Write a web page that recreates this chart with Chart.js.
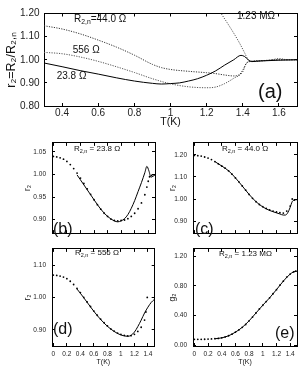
<!DOCTYPE html>
<html>
<head>
<meta charset="utf-8">
<script src="https://cdn.jsdelivr.net/npm/chart.js@4.4.0/dist/chart.umd.min.js"></script>
<style>
  body { margin: 0; background: #fff; }
  #wrap { position: relative; width: 306px; height: 366px; overflow: hidden; }
  canvas { position: absolute; }
</style>
</head>
<body>
<div id="wrap">
  <canvas id="pa"></canvas>
  <canvas id="pb"></canvas>
  <canvas id="pc"></canvas>
  <canvas id="pd"></canvas>
  <canvas id="pe"></canvas>
</div>
<script>
// ---- panel (a): r2 = R2/R2,n vs T for four films ----
const aT238 = [0.3,0.4,0.5,0.6,0.7,0.8,0.9,0.95,1.0,1.05,1.1,1.15,1.2,1.25,1.3,1.35,1.39,1.41,1.43,1.45,1.5,1.6,1.7];
const aR238 = [0.986,0.970,0.953,0.938,0.922,0.908,0.898,0.895,0.897,0.900,0.908,0.918,0.933,0.952,0.977,1.000,1.019,1.014,1.000,0.992,0.995,0.998,1.000];
const aT440 = [0.3,0.4,0.5,0.6,0.7,0.8,0.9,0.95,1.0,1.1,1.2,1.25,1.3,1.35,1.38,1.4,1.42,1.45,1.5,1.6,1.7];
const aR440 = [1.147,1.133,1.112,1.085,1.055,1.020,0.980,0.966,0.958,0.950,0.944,0.940,0.934,0.930,0.935,0.955,0.985,0.994,0.996,1.000,1.000];
const aT556 = [0.3,0.4,0.5,0.6,0.7,0.8,0.9,1.0,1.1,1.2,1.25,1.3,1.35,1.4,1.42,1.45,1.5,1.6,1.7];
const aR556 = [1.032,1.026,1.012,0.993,0.970,0.945,0.918,0.896,0.883,0.879,0.882,0.897,0.920,0.948,0.985,0.993,0.995,1.000,1.000];
const aT123 = [1.22,1.28,1.33,1.38,1.41,1.43,1.45,1.5,1.55,1.6,1.65,1.7];
const aR123 = [1.27,1.20,1.14,1.075,1.03,1.00,0.993,0.995,0.998,1.005,1.000,1.000];
const aXTicks = [0.4,0.6,0.8,1.0,1.2,1.4,1.6];
const aYTicks = [0.8,0.9,1.0,1.1,1.2];

// ---- panels (b)-(e): measured (dots) and calculated (line) ----
const bT    = [0,0.05,0.1,0.15,0.2,0.25,0.3,0.35,0.4,0.45,0.5,0.55,0.6,0.65,0.7,0.75,0.8,0.85,0.9,0.95,1.0,1.05,1.1,1.15,1.2,1.25,1.3,1.35,1.38,1.4,1.42,1.45];
const bDots = [1.040,1.039,1.037,1.034,1.029,1.022,1.013,1.003,0.992,0.980,0.968,0.956,0.944,0.933,0.923,0.914,0.907,0.901,0.898,0.897,0.898,0.899,0.902,0.907,0.914,0.924,0.937,0.955,0.972,0.985,0.995,0.998];
const bLT   = [0.35,0.4,0.5,0.6,0.7,0.8,0.9,0.95,1.0,1.05,1.1,1.15,1.2,1.25,1.3,1.35,1.38,1.41,1.44,1.47,1.5];
const bLine = [0.999,0.988,0.966,0.944,0.923,0.907,0.897,0.895,0.897,0.902,0.911,0.925,0.942,0.962,0.982,1.004,1.018,1.008,0.994,0.996,0.999];

const cT    = [0,0.05,0.1,0.15,0.2,0.25,0.3,0.35,0.4,0.45,0.5,0.55,0.6,0.65,0.7,0.75,0.8,0.85,0.9,0.95,1.0,1.05,1.1,1.15,1.2,1.25,1.3,1.35,1.4,1.43,1.46];
const cDots = [1.198,1.197,1.195,1.191,1.186,1.179,1.170,1.160,1.150,1.140,1.128,1.113,1.096,1.078,1.059,1.040,1.021,1.003,0.988,0.975,0.965,0.957,0.950,0.945,0.941,0.938,0.936,0.945,0.968,1.000,0.995];
const cLT   = [0.3,0.4,0.5,0.6,0.7,0.8,0.9,1.0,1.1,1.2,1.25,1.3,1.33,1.36,1.4,1.43,1.46,1.5];
const cLine = [1.170,1.150,1.128,1.096,1.059,1.021,0.988,0.964,0.948,0.937,0.932,0.927,0.927,0.935,0.962,0.988,0.995,0.997];

const dT    = [0,0.05,0.1,0.15,0.2,0.25,0.3,0.35,0.4,0.45,0.5,0.55,0.6,0.65,0.7,0.75,0.8,0.85,0.9,0.95,1.0,1.05,1.1,1.15,1.2,1.25,1.3,1.35,1.37,1.39];
const dDots = [1.069,1.068,1.066,1.063,1.058,1.050,1.040,1.028,1.015,1.000,0.986,0.972,0.958,0.945,0.933,0.922,0.912,0.903,0.896,0.890,0.886,0.883,0.881,0.882,0.886,0.895,0.908,0.930,0.955,1.000];
const dLT   = [0.35,0.4,0.5,0.6,0.7,0.8,0.9,1.0,1.1,1.15,1.2,1.25,1.3,1.35,1.4,1.45,1.49];
const dLine = [1.026,1.013,0.985,0.957,0.932,0.911,0.895,0.884,0.880,0.883,0.893,0.910,0.930,0.952,0.970,0.985,0.993];

const eT    = [0,0.05,0.1,0.15,0.2,0.25,0.3,0.35,0.4,0.45,0.5,0.55,0.6,0.65,0.7,0.75,0.8,0.85,0.9,0.95,1.0,1.05,1.1,1.15,1.2,1.25,1.3,1.35,1.4,1.45,1.48];
const eDots = [0.080,0.080,0.080,0.081,0.083,0.086,0.089,0.092,0.100,0.112,0.128,0.150,0.177,0.207,0.242,0.280,0.330,0.380,0.435,0.490,0.540,0.590,0.640,0.695,0.750,0.810,0.865,0.920,0.960,0.990,1.000];
const eLT   = [0.3,0.4,0.5,0.6,0.7,0.8,0.9,1.0,1.1,1.2,1.3,1.4,1.45,1.5];
const eLine = [0.088,0.100,0.128,0.177,0.242,0.330,0.435,0.540,0.640,0.750,0.865,0.960,0.990,1.000];

const lowXTicks = [0,0.2,0.4,0.6,0.8,1.0,1.2,1.4];
const bYTicks = [0.90,0.95,1.00,1.05];
const cYTicks = [0.90,1.00,1.10,1.20];
const dYTicks = [0.90,1.00,1.10];
const eYTicks = [0.00,0.40,0.80,1.20];

const FONT = '"Liberation Sans", Arial, Helvetica, sans-serif';
const pts = (xs, ys) => xs.map((x, i) => ({x: x, y: ys[i]}));

function dotted(xs, ys, color) {
  return {data: pts(xs, ys), borderColor: color, borderWidth: 1, borderDash: [1.2, 1.3],
          pointRadius: 0, fill: false, cubicInterpolationMode: 'monotone'};
}
function solid(xs, ys) {
  return {data: pts(xs, ys), borderColor: '#000', borderWidth: 1, pointRadius: 0,
          fill: false, cubicInterpolationMode: 'monotone'};
}
function dots(xs, ys) {
  return {data: pts(xs, ys), showLine: false, pointRadius: 0.9, pointBorderWidth: 0,
          pointBackgroundColor: '#000'};
}

// text with subscripts: parts = [[text, isSub], ...]
function richText(ctx, parts, x, y, size) {
  let cx = x;
  parts.forEach(([txt, sub]) => {
    const fs = sub ? size * 0.68 : size;
    ctx.font = fs + 'px ' + FONT;
    ctx.fillText(txt, cx, sub ? y + size * 0.3 : y);
    cx += ctx.measureText(txt).width;
  });
}

function axis(pos, min, max, ticks, fit, o) {
  o = o || {};
  const horiz = pos === 'top' || pos === 'bottom';
  return {
    type: 'linear', position: pos, min: min, max: max,
    afterBuildTicks: s => { s.ticks = ticks.map(v => ({value: v})); },
    afterFit: s => { if (horiz) s.height = fit; else s.width = fit; },
    grid: {drawOnChartArea: false, drawTicks: true, tickLength: -3, color: '#000', tickColor: '#000'},
    border: {display: true, color: '#000', width: 1},
    ticks: {display: !!o.labels, color: '#222', padding: o.pad || 0, autoSkip: false,
            maxRotation: 0, minRotation: 0,
            font: {family: FONT, size: o.size || 6}, callback: o.fmt},
    title: o.title ? {display: true, text: o.title, color: '#111', padding: o.titlePad,
                      font: {family: FONT, size: o.titleSize}} : {display: false}
  };
}

const fmtX = v => String(Math.round(v * 10) / 10);
const fmtY = v => v.toFixed(2);

function panel(id, box, plot, o) {
  const cv = document.getElementById(id);
  cv.style.left = box.x + 'px'; cv.style.top = box.y + 'px';
  cv.style.width = box.w + 'px'; cv.style.height = box.h + 'px';
  cv.width = box.w; cv.height = box.h;
  new Chart(cv, {
    type: 'line',
    data: {datasets: o.datasets},
    options: {
      responsive: false, animation: false, devicePixelRatio: 1,
      layout: {padding: {left: 0, bottom: 0, top: plot.t - box.y, right: box.x + box.w - plot.r}},
      plugins: {legend: {display: false}, tooltip: {enabled: false}},
      scales: {
        x: axis('bottom', o.xmin, o.xmax, o.xt, box.y + box.h - plot.b, o.xo),
        x2: axis('top', o.xmin, o.xmax, o.xt, 0),
        y: axis('left', o.ymin, o.ymax, o.yt, plot.l - box.x, o.yo),
        y2: axis('right', o.ymin, o.ymax, o.yt, 0)
      }
    },
    plugins: [{
      id: 'notes',
      afterDraw(chart) {
        const ctx = chart.ctx;
        ctx.save();
        ctx.fillStyle = '#111';
        ctx.textBaseline = 'middle';
        ctx.textAlign = 'left';
        o.notes.forEach(n => richText(ctx, n.parts, n.x - box.x, n.y - box.y, n.size));
        ctx.restore();
      }
    }]
  });
}

// (a)
panel('pa', {x: 0, y: 0, w: 306, h: 130}, {l: 44, t: 6, r: 297, b: 106}, {
  xmin: 0.3, xmax: 1.7, ymin: 0.8, ymax: 1.2, xt: aXTicks, yt: aYTicks,
  xo: {labels: true, pad: 4, size: 10, fmt: fmtX, title: 'T(K)', titleSize: 10.5, titlePad: 1.5},
  yo: {labels: true, pad: 7.5, size: 10, fmt: fmtY, title: 'r\u2082=R\u2082/R\u2082,\u2099', titleSize: 12.5, titlePad: 4},
  datasets: [
    solid(aT238, aR238),
    dotted(aT440, aR440, '#333'),
    dotted(aT556, aR556, '#555'),
    dotted(aT123, aR123, '#555')
  ],
  notes: [
    {parts: [['R', 0], ['2,n', 1], ['=44.0 \u03A9', 0]], x: 74, y: 19.5, size: 10},
    {parts: [['556 \u03A9', 0]], x: 72.7, y: 50, size: 10},
    {parts: [['23.8 \u03A9', 0]], x: 56.7, y: 76.7, size: 10},
    {parts: [['1.23 M\u03A9', 0]], x: 237, y: 16, size: 10},
    {parts: [['(a)', 0]], x: 258, y: 92, size: 20}
  ]
});

const lowX = {xmin: -0.02, xmax: 1.5, xt: lowXTicks};
const yTitle = (t, pad) => ({labels: true, pad: 9, size: 6.5, fmt: fmtY, title: t, titleSize: 8.5, titlePad: pad});

// (b)
panel('pb', {x: 0, y: 130, w: 160, h: 116}, {l: 52, t: 140, r: 155, b: 243}, Object.assign({
  ymin: 0.87, ymax: 1.07, yt: bYTicks, xo: {}, yo: yTitle('r\u2082', 22.5),
  datasets: [solid(bLT, bLine), dots(bT, bDots)],
  notes: [
    {parts: [['R', 0], ['2,n', 1], [' = 23.8 \u03A9', 0]], x: 74, y: 149, size: 8},
    {parts: [['(b)', 0]], x: 53, y: 229.5, size: 16}
  ]
}, lowX));

// (c)
panel('pc', {x: 160, y: 130, w: 146, h: 116}, {l: 193, t: 140, r: 297, b: 243}, Object.assign({
  ymin: 0.845, ymax: 1.255, yt: cYTicks, xo: {}, yo: yTitle('r\u2082', 8),
  datasets: [solid(cLT, cLine), dots(cT, cDots)],
  notes: [
    {parts: [['R', 0], ['2,n', 1], [' = 44.0 \u03A9', 0]], x: 222, y: 149, size: 8},
    {parts: [['(c)', 0]], x: 195, y: 230, size: 16}
  ]
}, lowX));

// (d)
panel('pd', {x: 0, y: 236, w: 160, h: 130}, {l: 52, t: 243, r: 155, b: 346}, Object.assign({
  ymin: 0.85, ymax: 1.15, yt: dYTicks,
  xo: {labels: true, pad: 7.2, size: 6.5, fmt: fmtX, title: 'T(K)', titleSize: 7, titlePad: 0},
  yo: yTitle('r\u2082', 22.5),
  datasets: [solid(dLT, dLine), dots(dT, dDots)],
  notes: [
    {parts: [['R', 0], ['2,n', 1], [' = 556 \u03A9', 0]], x: 75, y: 253, size: 8},
    {parts: [['(d)', 0]], x: 53, y: 330, size: 16}
  ]
}, lowX));

// (e)
panel('pe', {x: 160, y: 236, w: 146, h: 130}, {l: 193, t: 243, r: 297, b: 346}, Object.assign({
  ymin: -0.01, ymax: 1.3, yt: eYTicks,
  xo: {labels: true, pad: 7.2, size: 6.5, fmt: fmtX, title: 'T(K)', titleSize: 7, titlePad: 0},
  yo: yTitle('g\u2082', 8),
  datasets: [solid(eLT, eLine), dots(eT, eDots)],
  notes: [
    {parts: [['R', 0], ['2,n', 1], [' = 1.23 M\u03A9', 0]], x: 219, y: 254, size: 8},
    {parts: [['(e)', 0]], x: 275, y: 334, size: 16}
  ]
}, lowX));
</script>
</body>
</html>
